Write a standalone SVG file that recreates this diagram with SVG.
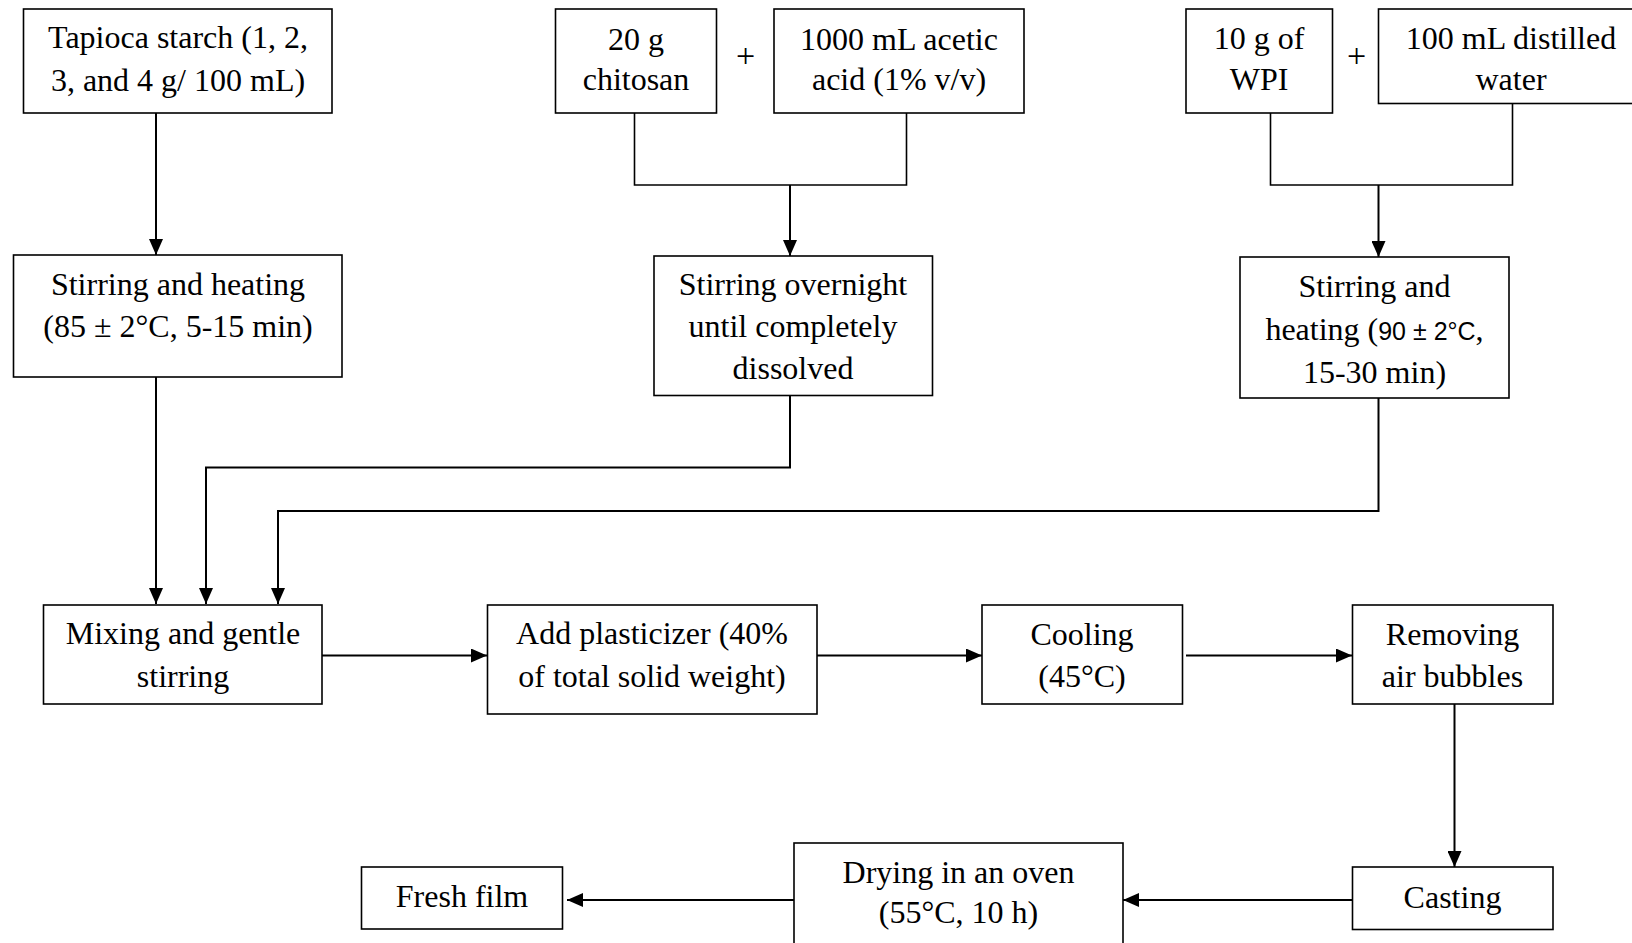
<svg xmlns="http://www.w3.org/2000/svg" width="1632" height="943" viewBox="0 0 1632 943">
<style>
.box{fill:#fff;stroke:#000;stroke-width:1.6}
.t{font-family:"Liberation Serif","Times New Roman",serif;font-size:32px;fill:#000;text-anchor:middle}
.s{font-family:"Liberation Sans",Arial,sans-serif;font-size:25px}
.plus{font-family:"Liberation Serif",serif;font-size:34px;fill:#000;text-anchor:middle}
.c{fill:none;stroke:#000;stroke-width:2}
.b{fill:none;stroke:#000;stroke-width:1.6}
</style>
<defs>
<marker id="ah" markerUnits="userSpaceOnUse" markerWidth="16" markerHeight="14" refX="16" refY="7" orient="auto">
<path d="M0,0 L16,7 L0,14 z" fill="#000"/>
</marker>
</defs>
<rect width="1632" height="943" fill="#fff"/>
<g id="connectors">
<path class="c" d="M156 113 V255" marker-end="url(#ah)"/>
<path class="b" d="M634.5 113 V185 H906.5 V113"/>
<path class="c" d="M790 185 V256" marker-end="url(#ah)"/>
<path class="b" d="M1270.5 113 V185 H1512.5 V103.5"/>
<path class="c" d="M1378.5 185 V257" marker-end="url(#ah)"/>
<path class="c" d="M156 377 V604" marker-end="url(#ah)"/>
<path class="c" d="M790 395.5 V467.5 H206 V604" marker-end="url(#ah)"/>
<path class="c" d="M1378.5 398 V511 H278 V604" marker-end="url(#ah)"/>
<path class="c" d="M322 655.5 H487" marker-end="url(#ah)"/>
<path class="c" d="M817 655.5 H982" marker-end="url(#ah)"/>
<path class="c" d="M1186 655.5 H1352" marker-end="url(#ah)"/>
<path class="c" d="M1454.5 704 V867" marker-end="url(#ah)"/>
<path class="c" d="M1352 900 H1123" marker-end="url(#ah)"/>
<path class="c" d="M794 900 H567" marker-end="url(#ah)"/>
</g>
<g id="tapioca"><rect class="box" x="23.5" y="9" width="308.5" height="104"/>
<text class="t" x="178" y="48">Tapioca starch (1, 2,</text><text class="t" x="178" y="91">3, and 4 g/ 100 mL)</text></g>
<g id="stir1"><rect class="box" x="13.5" y="255" width="328.5" height="122"/>
<text class="t" x="178" y="295">Stirring and heating</text><text class="t" x="178" y="337">(85 ± 2°C, 5-15 min)</text></g>
<g id="chitosan"><rect class="box" x="555.5" y="9" width="161" height="104"/>
<text class="t" x="636" y="50">20 g</text><text class="t" x="636" y="90">chitosan</text></g>
<text class="plus" x="745.5" y="67">+</text>
<g id="acid"><rect class="box" x="774" y="9" width="250" height="104"/>
<text class="t" x="899" y="50">1000 mL acetic</text><text class="t" x="899" y="90">acid (1% v/v)</text></g>
<g id="stir2"><rect class="box" x="654" y="256" width="278.5" height="139.5"/>
<text class="t" x="793" y="295">Stirring overnight</text><text class="t" x="793" y="337">until completely</text><text class="t" x="793" y="379">dissolved</text></g>
<g id="wpi"><rect class="box" x="1186" y="9" width="146.5" height="104"/>
<text class="t" x="1259" y="49">10 g of</text><text class="t" x="1259" y="90">WPI</text></g>
<text class="plus" x="1356.5" y="67">+</text>
<g id="water"><rect class="box" x="1378.5" y="9" width="270" height="94.5"/>
<text class="t" x="1511" y="49">100 mL distilled</text><text class="t" x="1511" y="90">water</text></g>
<g id="stir3"><rect class="box" x="1240" y="257" width="269" height="141"/>
<text class="t" x="1374.5" y="297">Stirring and</text><text class="t" x="1374.5" y="340">heating (<tspan class="s">90 ± 2°C</tspan>,</text><text class="t" x="1374.5" y="383">15-30 min)</text></g>
<g id="mix"><rect class="box" x="43.5" y="605" width="278.5" height="99"/>
<text class="t" x="183" y="644">Mixing and gentle</text><text class="t" x="183" y="687">stirring</text></g>
<g id="add"><rect class="box" x="487.5" y="605" width="329.5" height="109"/>
<text class="t" x="652" y="644">Add plasticizer (40%</text><text class="t" x="652" y="687">of total solid weight)</text></g>
<g id="cool"><rect class="box" x="982" y="605" width="200.5" height="99"/>
<text class="t" x="1082" y="645">Cooling</text><text class="t" x="1082" y="687">(45°C)</text></g>
<g id="remove"><rect class="box" x="1352.5" y="605" width="200.5" height="99"/>
<text class="t" x="1452.5" y="645">Removing</text><text class="t" x="1452.5" y="687">air bubbles</text></g>
<g id="casting"><rect class="box" x="1352.5" y="867" width="200.5" height="62.5"/>
<text class="t" x="1452.5" y="908">Casting</text></g>
<g id="drying"><rect class="box" x="794" y="843" width="329" height="110"/>
<text class="t" x="958.5" y="883">Drying in an oven</text><text class="t" x="958.5" y="923">(55°C, 10 h)</text></g>
<g id="fresh"><rect class="box" x="361.5" y="867" width="201" height="62"/>
<text class="t" x="462" y="907">Fresh film</text></g>
</svg>
